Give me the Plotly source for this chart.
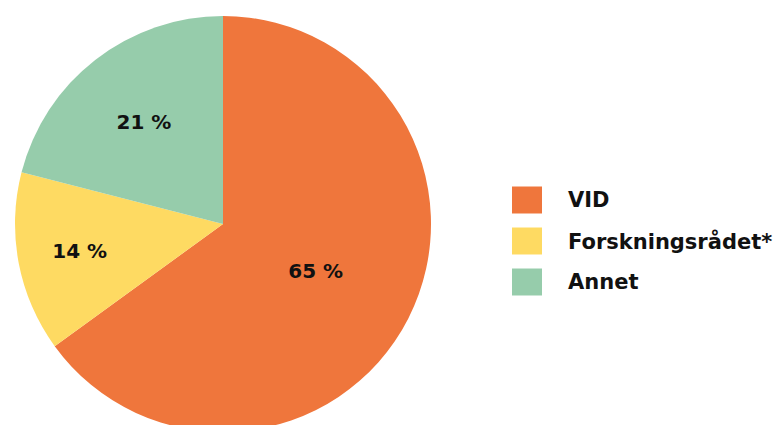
import plotly.graph_objects as go

labels = ["VID", "Forskningsrådet*", "Annet"]
values = [65, 14, 21]
colors = ["#EF763C", "#FEDA62", "#96CCAB"]

W, H = 779, 440
T, B = 16, 8
FONT = "DejaVu Sans"

fig = go.Figure()
fig.add_trace(go.Pie(
    labels=labels,
    values=values,
    sort=False,
    direction="clockwise",
    rotation=0,
    marker=dict(colors=colors, line=dict(width=0)),
    texttemplate="%{value} %",
    textposition="inside",
    insidetextorientation="horizontal",
    textfont=dict(family=FONT, size=20, color="#111111", weight="bold"),
    domain=dict(x=[15 / W, 431 / W], y=[0, 1]),
    showlegend=False,
    hoverinfo="label+percent",
))

def py2paper(py):
    return 1 - (py - T) / (H - T - B)

shapes = []
annotations = []
row_centers = [200, 241, 282]
for lab, col, cy in zip(labels, colors, row_centers):
    shapes.append(dict(type="rect", xref="paper", yref="paper",
                       x0=512 / W, x1=542 / W,
                       y0=py2paper(cy + 13.5), y1=py2paper(cy - 13.5),
                       fillcolor=col, line=dict(width=0)))
    annotations.append(dict(xref="paper", yref="paper", x=566 / W, y=py2paper(cy),
                            text=lab, showarrow=False, xanchor="left", yanchor="middle",
                            font=dict(family=FONT, size=21, color="#111111", weight="bold")))

fig.update_layout(
    width=W, height=H,
    margin=dict(l=0, r=0, t=T, b=B),
    paper_bgcolor="white",
    plot_bgcolor="white",
    shapes=shapes,
    annotations=annotations,
)

fig.write_html("out.html",
               config={"displayModeBar": False},
               post_script="document.body.style.margin='0';document.body.style.overflow='hidden';")
